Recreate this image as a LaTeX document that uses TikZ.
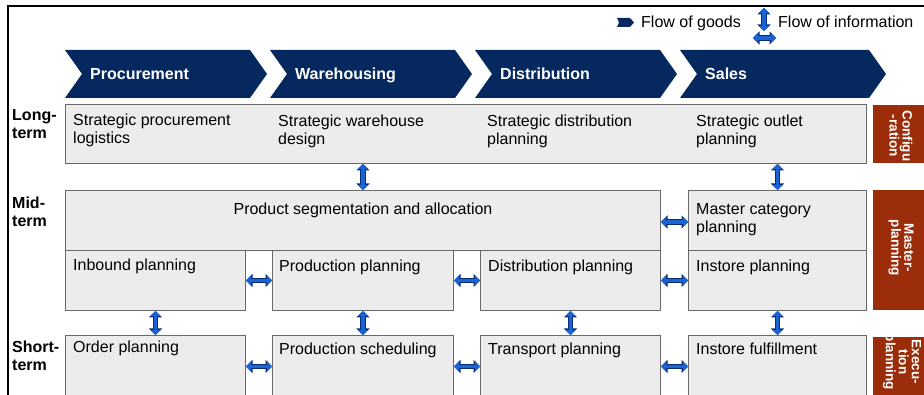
\documentclass[tikz,border=0pt]{standalone}
\usepackage{fontspec}
\setmainfont{Liberation Sans}
\usetikzlibrary{positioning,arrows.meta,calc}
\definecolor{chainblue}{RGB}{5,40,95}
\definecolor{levelred}{RGB}{155,45,10}
\definecolor{boxfill}{RGB}{236,236,236}
\definecolor{boxline}{RGB}{105,105,105}
\definecolor{infoblue}{RGB}{25,100,210}
\definecolor{infodark}{RGB}{10,45,120}

\tikzset{
  task/.style={draw=boxline,fill=boxfill,line width=1pt,anchor=north west,inner sep=0pt},
  tasktext/.style={anchor=north west,inner sep=0pt,align=left,font=\fontsize{16}{18}\selectfont},
  phase/.style={anchor=base west,inner sep=0pt,text=white,font=\fontsize{16}{18}\selectfont\bfseries},
  horizon/.style={anchor=north west,inner sep=0pt,align=left,font=\fontsize{16}{18}\selectfont\bfseries},
  level/.style={fill=levelred,anchor=north west,inner sep=0pt},
  leveltext/.style={rotate=-90,align=center,inner sep=0pt,text=white,font=\fontsize{13.5}{13}\selectfont\bfseries},
  legend/.style={anchor=base west,inner sep=0pt,font=\fontsize{16}{18}\selectfont},
  info/.style={draw=infoblue,line width=3.6pt,
    {Triangle[width=10pt,length=5pt]}-{Triangle[width=10pt,length=5pt]},
    preaction={draw=infodark,line width=5.6pt,
      {Triangle[width=13pt,length=6.5pt]}-{Triangle[width=13pt,length=6.5pt]}}}
}

\begin{document}
\begin{tikzpicture}[x=1pt,y=-1pt]
  \useasboundingbox (0,0) rectangle (924,395);
  \clip (0,0) rectangle (924,395);

  % frame
  \draw[line width=2.5pt] (8,400) -- (8,6) -- (930,6);

  % legend
  \fill[chainblue] (617,18) -- (630,18) -- (634,22.5) -- (630,27) -- (617,27) -- (619,22.5) -- cycle;
  \node[legend] (lgoods) at (641,28) {Flow of goods};
  \coordinate (infotop) at (764,8);
  \coordinate (infobot) at (764,31);
  \coordinate (infoleft) at (753,38);
  \coordinate (inforight) at (776,38);
  \draw[info] (infotop) -- (infobot);
  \draw[info] (infoleft) -- (inforight);
  \node[legend] (linfo) at (778,28) {Flow of information};

  % value chain
  \foreach \x/\w/\name/\txt in {65/185/proc/Procurement,270/185/ware/Warehousing,
                                475/185/dist/Distribution,680/189/sale/Sales} {
    \fill[chainblue] (\x,50) -- ++(\w,0) -- ++(17,24) -- ++(-17,24) -- ++(-\w,0) -- ++(17,-24) -- cycle;
    \node[phase] (\name) at (\x+25,80) {\txt};
  }

  % planning horizons
  \node[horizon] (long) at (12,109) {Long-\\term};
  \node[horizon] (mid) at (12,197) {Mid-\\term};
  \node[horizon] (short) at (12,341) {Short-\\term};

  % long-term
  \node[task,minimum width=801pt,minimum height=59pt] (lt) at (65,104) {};
  \node[tasktext] (ltproc) at (73,114) {Strategic procurement\\logistics};
  \node[tasktext] (ltware) at (278,115) {Strategic warehouse\\design};
  \node[tasktext] (ltdist) at (487,115) {Strategic distribution\\planning};
  \node[tasktext] (ltsale) at (696,115) {Strategic outlet\\planning};

  % mid-term
  \node[task,minimum width=595pt,minimum height=60pt] (seg) at (65,190) {};
  \node[task,minimum width=178pt,minimum height=60pt] (mcat) at (688,190) {};
  \node[task,minimum width=180pt,minimum height=60pt] (inb) at (65,250) {};
  \node[task,minimum width=181pt,minimum height=60pt] (prodp) at (272,250) {};
  \node[task,minimum width=180pt,minimum height=60pt] (distp) at (480,250) {};
  \node[task,minimum width=178pt,minimum height=60pt] (instp) at (688,250) {};
  \node[tasktext,anchor=north] (segtxt) at (363,203) {Product segmentation and allocation};
  \node[tasktext] (mcattxt) at (696,203) {Master category\\planning};
  \node[tasktext] (inbtxt) at (73,259) {Inbound planning};
  \node[tasktext] (prodptxt) at (279,260) {Production planning};
  \node[tasktext] (distptxt) at (488,260) {Distribution planning};
  \node[tasktext] (instptxt) at (696,260) {Instore planning};

  % short-term
  \node[task,minimum width=180pt,minimum height=62pt] (ordp) at (65,335) {};
  \node[task,minimum width=181pt,minimum height=62pt] (prods) at (272,335) {};
  \node[task,minimum width=180pt,minimum height=62pt] (trans) at (480,335) {};
  \node[task,minimum width=178pt,minimum height=62pt] (inful) at (688,335) {};
  \node[tasktext] (ordptxt) at (73,341) {Order planning};
  \node[tasktext] (prodstxt) at (279,343) {Production scheduling};
  \node[tasktext] (transtxt) at (488,343) {Transport planning};
  \node[tasktext] (infultxt) at (696,343) {Instore fulfillment};

  % level tags
  \node[level,minimum width=55pt,minimum height=58pt] (cfg) at (873,105) {};
  \node[level,minimum width=55pt,minimum height=120pt] (mpl) at (873,190) {};
  \node[level,minimum width=55pt,minimum height=70pt] (epl) at (873,337) {};
  \node[leveltext] (cfgtxt) at (901,136) {Configu\\-ration};
  \node[leveltext] (mpltxt) at (901,248) {Master-\\planning};
  \node[leveltext] (epltxt) at (902,362) {Execu-\\tion\\planning};

  % information flows
  \draw[info] (seg.north) -- (seg.north |- lt.south);
  \draw[info] (mcat.north) -- (mcat.north |- lt.south);
  \draw[info] (seg.east |- 0,222) -- (mcat.west |- 0,222);
  \draw[info] (inb.east) -- (prodp.west);
  \draw[info] (prodp.east) -- (distp.west);
  \draw[info] (distp.east) -- (instp.west);
  \draw[info] (inb.south) -- (ordp.north);
  \draw[info] (prodp.south) -- (prods.north);
  \draw[info] (distp.south) -- (trans.north);
  \draw[info] (instp.south) -- (inful.north);
  \draw[info] (ordp.east) -- (prods.west);
  \draw[info] (prods.east) -- (trans.west);
  \draw[info] (trans.east) -- (inful.west);
\end{tikzpicture}
\end{document}
